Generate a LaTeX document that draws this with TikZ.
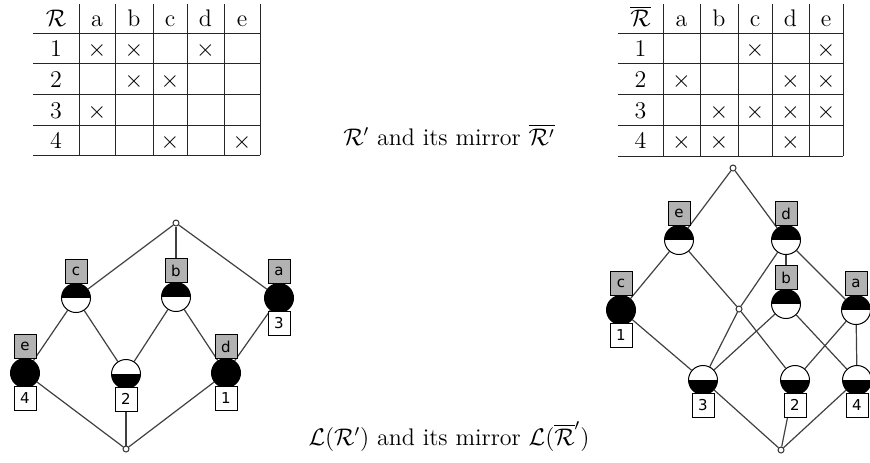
\documentclass[tikz,border=0pt]{standalone}
\usepackage{fontspec}
\newfontfamily\lblfont{DejaVu Sans}
\pgfdeclarelayer{background}
\pgfsetlayers{background,main}
\begin{document}
\begin{tikzpicture}[x=0.5pt,y=-0.5pt,
  txt/.style={inner sep=0pt,anchor=base,font=\fontsize{12}{14}\selectfont},
  tline/.style={line width=0.5pt,black!85},
  conc/.style={circle,draw=black,line width=0.5pt,fill=white,minimum size=14.5pt,inner sep=0pt},
  attr/.style={conc,path picture={\fill[black] (path picture bounding box.west) rectangle (path picture bounding box.north east);}},
  obj/.style={conc,path picture={\fill[black] (path picture bounding box.south west) rectangle (path picture bounding box.east);}},
  both/.style={conc,fill=black},
  dotn/.style={circle,draw=black!80,line width=0.5pt,fill=white,minimum size=3pt,inner sep=0pt},
  albl/.style={draw=black,line width=0.5pt,fill=black!30,minimum width=11pt,minimum height=12pt,inner sep=0pt,font=\lblfont\fontsize{7.5}{8}\selectfont},
  olbl/.style={albl,fill=white},
  edge/.style={line width=0.6pt,black!75}
]
\useasboundingbox (0,0) rectangle (870,462);

% ---------- left table ----------
\foreach \x in {79,115,153,187,224,260} \draw[tline] (\x,4) -- (\x,155);
\foreach \y in {33,63,94,125,155} \draw[tline] (33,\y) -- (260,\y);
\node[txt] (LH0) at (56,26.5) {$\mathcal{R}$};
\node[txt] (LHa) at (97,26.5) {a};
\node[txt] (LHb) at (134,26.5) {b};
\node[txt] (LHc) at (170,26.5) {c};
\node[txt] (LHd) at (205.5,26.5) {d};
\node[txt] (LHe) at (242,26.5) {e};
\node[txt] (LR1) at (56,56.5) {1};
\node[txt] (LR2) at (56,87.5) {2};
\node[txt] (LR3) at (56,118.5) {3};
\node[txt] (LR4) at (56,148.5) {4};
\node[txt] (L1a) at (97,56.5) {$\times$};
\node[txt] (L1b) at (134,56.5) {$\times$};
\node[txt] (L1d) at (205.5,56.5) {$\times$};
\node[txt] (L2b) at (134,87.5) {$\times$};
\node[txt] (L2c) at (170,87.5) {$\times$};
\node[txt] (L3a) at (97,118.5) {$\times$};
\node[txt] (L4c) at (170,148.5) {$\times$};
\node[txt] (L4e) at (242,148.5) {$\times$};

% ---------- right table ----------
\foreach \x in {663,700,738,772,809,843} \draw[tline] (\x,4) -- (\x,156);
\foreach \y in {33,63,94,125,156} \draw[tline] (618,\y) -- (843,\y);
\node[txt] (RH0) at (640.5,26.5) {$\overline{\mathcal{R}}$};
\node[txt] (RHa) at (681.5,26.5) {a};
\node[txt] (RHb) at (719,26.5) {b};
\node[txt] (RHc) at (755,26.5) {c};
\node[txt] (RHd) at (790.5,26.5) {d};
\node[txt] (RHe) at (826,26.5) {e};
\node[txt] (RR1) at (640.5,56.5) {1};
\node[txt] (RR2) at (640.5,87.5) {2};
\node[txt] (RR3) at (640.5,118.5) {3};
\node[txt] (RR4) at (640.5,148.5) {4};
\node[txt] (R1c) at (755,56.5) {$\times$};
\node[txt] (R1e) at (826,56.5) {$\times$};
\node[txt] (R2a) at (681.5,87.5) {$\times$};
\node[txt] (R2d) at (790.5,87.5) {$\times$};
\node[txt] (R2e) at (826,87.5) {$\times$};
\node[txt] (R3b) at (719,118.5) {$\times$};
\node[txt] (R3c) at (755,118.5) {$\times$};
\node[txt] (R3d) at (790.5,118.5) {$\times$};
\node[txt] (R3e) at (826,118.5) {$\times$};
\node[txt] (R4a) at (681.5,148.5) {$\times$};
\node[txt] (R4b) at (719,148.5) {$\times$};
\node[txt] (R4d) at (790.5,148.5) {$\times$};

% ---------- captions ----------
\node[txt] (cap1) at (449,145) {$\mathcal{R}'$ and its mirror $\overline{\mathcal{R}'}$};
\node[txt] (cap2) at (449,445) {$\mathcal{L}(\mathcal{R}')$ and its mirror $\mathcal{L}(\overline{\mathcal{R}}')$};

% ---------- left lattice ----------
\node[dotn] (Ltop) at (176,223) {};
\node[attr] (Lc) at (76,298) {};
\node[attr] (Lb) at (176,297) {};
\node[both] (La) at (279,298) {};
\node[both] (Le) at (25,373) {};
\node[obj]  (L2) at (126,374) {};
\node[both] (Ld) at (226,373) {};
\node[dotn] (Lbot) at (126,449) {};
\begin{pgfonlayer}{background}
\draw[edge] (Ltop) -- (Lc);
\draw[edge] (Ltop) -- (Lb);
\draw[edge] (Ltop) -- (La);
\draw[edge] (Lc) -- (Le);
\draw[edge] (Lc) -- (L2);
\draw[edge] (Lb) -- (L2);
\draw[edge] (Lb) -- (Ld);
\draw[edge] (La) -- (Ld);
\draw[edge] (Le) -- (Lbot);
\draw[edge] (L2) -- (Lbot);
\draw[edge] (Ld) -- (Lbot);
\end{pgfonlayer}
\node[albl] (Llc) at ([yshift=13.25pt] Lc.center) {c};
\node[albl] (Llb) at ([yshift=13.25pt] Lb.center) {b};
\node[albl] (Lla) at ([yshift=13.25pt] La.center) {a};
\node[albl] (Lle) at ([yshift=13.25pt] Le.center) {e};
\node[albl] (Lld) at ([yshift=13.25pt] Ld.center) {d};
\node[olbl] (Lo3) at ([yshift=-12.5pt] La.center) {3};
\node[olbl] (Lo4) at ([yshift=-12.5pt] Le.center) {4};
\node[olbl] (Lo2) at ([yshift=-12.5pt] L2.center) {2};
\node[olbl] (Lo1) at ([yshift=-12.5pt] Ld.center) {1};

% ---------- right lattice ----------
\node[dotn] (Rtop) at (733,168) {};
\node[attr] (Re) at (679,240) {};
\node[attr] (Rd) at (786,240) {};
\node[attr] (Rb) at (786,304) {};
\node[both] (Rc) at (621,310) {};
\node[attr] (Ra) at (856,310) {};
\node[dotn] (Rm) at (739,309) {};
\node[obj]  (R3) at (703,380) {};
\node[obj]  (R2) at (795,380) {};
\node[obj]  (R4) at (857,380) {};
\node[dotn] (Rbot) at (781,450) {};
\begin{pgfonlayer}{background}
\draw[edge] (Rtop) -- (Re);
\draw[edge] (Rtop) -- (Rd);
\draw[edge] (Re) -- (Rc);
\draw[edge] (Re) -- (Rm);
\draw[edge] (Rd) -- (Rm);
\draw[edge] (Rd) -- (Rb);
\draw[edge] (Rd) -- (Ra);
\draw[edge] (Rc) -- (R3);
\draw[edge] (Rm) -- (R3);
\draw[edge] (Rm) -- (R2);
\draw[edge] (Rb) -- (R3);
\draw[edge] (Rb) -- (R4);
\draw[edge] (Ra) -- (R2);
\draw[edge] (Ra) -- (R4);
\draw[edge] (R3) -- (Rbot);
\draw[edge] (R2) -- (Rbot);
\draw[edge] (R4) -- (Rbot);
\end{pgfonlayer}
\node[albl] (Rle) at ([yshift=13.25pt] Re.center) {e};
\node[albl] (Rld) at ([yshift=13.25pt] Rd.center) {d};
\node[albl] (Rlb) at ([yshift=13.25pt] Rb.center) {b};
\node[albl] (Rlc) at ([yshift=13.25pt] Rc.center) {c};
\node[albl] (Rla) at ([yshift=13.25pt] Ra.center) {a};
\node[olbl] (Ro1) at ([yshift=-12.5pt] Rc.center) {1};
\node[olbl] (Ro3) at ([yshift=-12.5pt] R3.center) {3};
\node[olbl] (Ro2) at ([yshift=-12.5pt] R2.center) {2};
\node[olbl] (Ro4) at ([yshift=-12.5pt] R4.center) {4};
\end{tikzpicture}
\end{document}
